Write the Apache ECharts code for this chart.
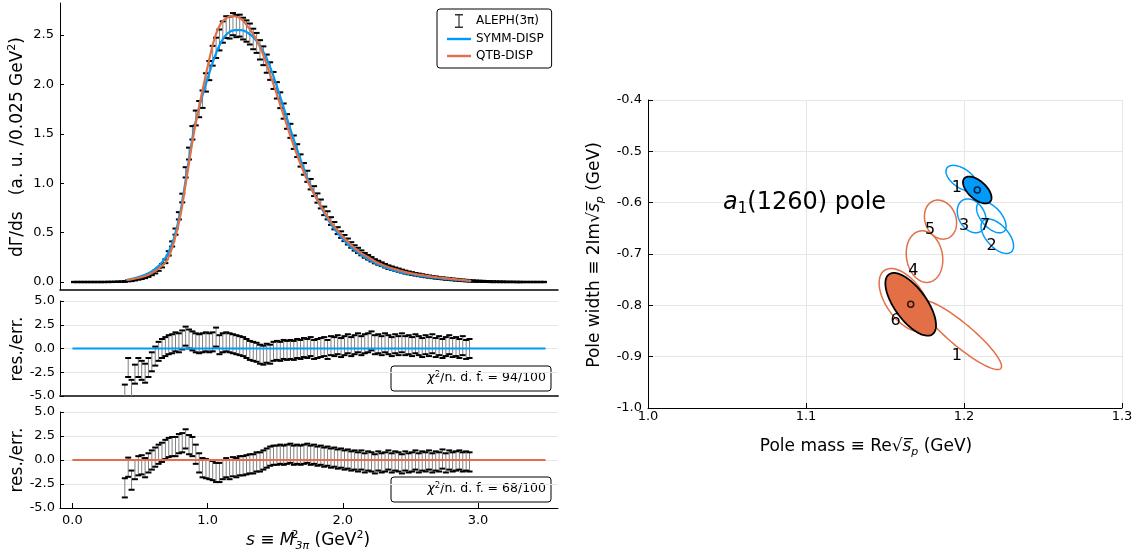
<!DOCTYPE html>
<html><head><meta charset="utf-8">
<script src="https://cdn.jsdelivr.net/npm/echarts@6/dist/echarts.min.js"></script>
<style>html,body{margin:0;padding:0;background:#fff}#c{width:1136px;height:559px}</style>
</head><body><div id="c"></div><script>
// ---------------- data ----------------
const BIN_WIDTH = 0.025;               // GeV^2 bins, centres at (i+0.5)*BIN_WIDTH
const alephValues = [
  0,0,0,0,0,0,0,0,0,0,0.001,0.001,0.002,0.003,0.004,
  0.005,0.012,0.014,0.022,0.030,0.038,0.048,
  0.062,0.080,0.100,0.128,0.165,0.21,
  0.29,0.385,0.51,0.67,0.85,1.11,
  1.30,1.51,1.66,1.75,1.85,2.02,
  2.14,2.29,2.37,2.45,2.53,2.58,
  2.575,2.61,2.59,2.595,2.565,2.54,
  2.51,2.46,2.42,2.35,2.29,2.21,
  2.135,2.04,1.94,1.84,1.73,1.625,
  1.53,1.415,1.33,1.23,1.145,1.07,
  0.99,0.92,0.85,0.79,0.72,0.675,
  0.617,0.57,0.52,0.48,0.445,0.41,
  0.375,0.345,0.32,0.295,0.27,0.25,
  0.23,0.21,0.195,0.18,0.165,0.15,
  0.14,0.13,0.12,0.11,0.10,0.092,
  0.085,0.078,0.072,0.066,0.06,0.055,
  0.05,0.045,0.041,0.037,0.033,0.03,
  0.026,0.023,0.02,0.017,0.014,0.012,
  0.010,0.008,0.007,0.006,0.005,0.004,0.003,0.003,0.002,0.002,0.001,0.001,0.001,0,0,0,0,0,0,0,0,0
];
const alephErrors = [
  0.002,0.002,0.002,0.002,0.002,0.002,0.002,0.002,0.002,0.002,0.002,0.002,0.002,0.002,0.002,
  0.004,0.005,0.005,0.006,0.007,0.008,0.009,
  0.010,0.011,0.013,0.015,0.017,0.019,
  0.022,0.026,0.031,0.037,0.044,0.052,
  0.060,0.068,0.075,0.082,0.088,0.093,
  0.097,0.100,0.103,0.106,0.108,0.110,
  0.111,0.112,0.112,0.111,0.110,0.108,
  0.106,0.104,0.101,0.098,0.095,0.092,
  0.089,0.086,0.083,0.080,0.077,0.074,
  0.071,0.068,0.065,0.062,0.059,0.056,
  0.053,0.050,0.047,0.045,0.043,0.041,
  0.039,0.037,0.035,0.033,0.031,0.030,
  0.028,0.027,0.026,0.025,0.024,0.023,
  0.022,0.021,0.020,0.019,0.018,0.018,
  0.017,0.016,0.016,0.015,0.015,0.014,
  0.014,0.013,0.013,0.012,0.012,0.011,
  0.011,0.011,0.010,0.010,0.010,0.009,
  0.009,0.009,0.008,0.008,0.008,0.008,
  0.007,0.007,0.006,0.006,0.005,0.005,0.005,0.004,0.004,0.004,0.003,0.003,0.003,0.003,0.003,0.002,0.002,0.002,0.002,0.002,0.002,0.002
];
const curveS = [0.40,0.45,0.50,0.55,0.60,0.65,0.70,0.75,0.80,0.85,0.90,0.95,
  1.00,1.05,1.10,1.15,1.20,1.25,1.30,1.35,1.40,1.45,1.50,1.55,1.60,1.65,1.70,1.75,1.80,1.85,1.90,1.95,
  2.00,2.05,2.10,2.15,2.20,2.25,2.30,2.35,2.40,2.45,2.50,2.55,2.60,2.65,2.70,2.75,2.80,2.85,2.90,2.95];
const symmDisp = [0.02,0.035,0.055,0.08,0.12,0.18,0.27,0.44,0.72,1.14,1.55,1.83,
  2.06,2.27,2.43,2.52,2.55,2.55,2.52,2.46,2.36,2.22,2.03,1.82,1.60,1.39,1.19,1.01,0.86,0.73,0.61,0.515,
  0.435,0.365,0.31,0.26,0.22,0.185,0.155,0.13,0.11,0.092,0.078,0.066,0.056,0.047,0.039,0.032,0.026,0.02,0.015,0.01];
const qtbDisp = [0.02,0.03,0.045,0.065,0.10,0.15,0.22,0.40,0.68,1.10,1.52,1.86,
  2.18,2.46,2.62,2.68,2.69,2.66,2.58,2.48,2.34,2.15,1.95,1.74,1.53,1.33,1.15,0.99,0.86,0.74,0.63,0.54,
  0.46,0.39,0.33,0.28,0.24,0.20,0.17,0.145,0.125,0.105,0.09,0.078,0.067,0.057,0.048,0.040,0.032,0.025,0.018,0.012];
const RES_FIRST_BIN = 15;              // residuals start at bin 15 (s = 0.3875)
const resSymm = [
  -4.8,-2.0,-4.3,-2.7,-2.0,-2.3,-2.6,
  -2.0,-1.4,-0.8,-0.3,0.0,0.2,
  0.4,0.5,0.7,0.6,0.9,1.3,
  1.0,0.8,0.6,0.5,0.6,0.7,
  0.6,0.7,1.2,0.4,0.6,0.7,
  0.6,0.5,0.4,0.3,0.2,0.0,
  -0.2,-0.3,-0.4,-0.6,-0.7,-0.5,
  -0.6,-0.3,-0.2,-0.3,-0.1,-0.2,
  -0.1,-0.2,0.0,-0.1,0.1,0.0,
  0.2,-0.1,0.0,0.1,0.2,-0.1,
  0.3,0.2,0.4,0.1,0.3,0.5,
  0.2,0.4,0.6,0.3,0.5,0.6,
  0.8,0.4,0.5,0.3,0.6,0.4,
  0.2,0.5,0.3,0.6,0.3,0.4,
  0.2,0.5,0.3,0.1,0.4,0.2,
  0.5,0.1,0.3,0.0,0.2,0.4,
  0.1,0.2,0.0,0.3,-0.1,0.0
];
const resQtb = [
  -2.9,-0.75,-2.1,-1.0,-0.6,-0.5,-0.8,
  -0.3,0.0,0.3,0.6,0.8,1.1,
  1.3,1.4,1.4,1.7,1.8,2.2,
  1.6,1.4,0.6,-0.3,-0.8,-0.9,
  -1.0,-1.1,-1.3,-1.3,-1.0,-0.8,
  -1.0,-0.7,-0.8,-0.6,-0.6,-0.5,
  -0.4,-0.4,-0.2,-0.2,0.0,0.2,
  0.4,0.5,0.5,0.6,0.5,0.6,
  0.7,0.5,0.6,0.5,0.6,0.7,
  0.5,0.6,0.4,0.5,0.3,0.4,
  0.2,0.3,0.1,0.2,0.0,0.1,
  -0.1,0.0,-0.2,0.0,-0.3,-0.1,
  -0.2,-0.4,-0.1,-0.3,-0.2,0.0,
  -0.3,-0.1,-0.2,-0.4,-0.1,-0.3,
  -0.2,0.0,-0.3,-0.1,-0.2,0.0,
  -0.3,-0.1,-0.2,0.1,-0.3,0.0,
  -0.2,-0.1,0.0,-0.2,-0.1,-0.2
];
const modelRange = [0, 3.5];
const chi2Symm = '94/100';
const chi2Qtb = '68/100';
const mainYTicks = [0, 0.5, 1.0, 1.5, 2.0, 2.5];
const sTicks = [0, 1, 2, 3];
// ellipses: [centreMass, centreWidth, u_mass, u_width, v_mass, v_width] (conjugate semi-axes, GeV)
const qtbOutlines = [
  [1.18513, -0.6330, 0.00433, -0.03661, -0.00922, -0.01033],  // 5
  [1.17500, -0.7051, 0.00286, -0.04988, -0.01122, -0.00610],  // 4
  [1.16266, -0.7896, 0.01307, -0.05745, -0.00985, -0.02123],  // 6
  [1.19810, -0.8578, 0.02521, -0.06511, -0.00468, -0.01716]   // 1
];
const symmOutlines = [
  [1.19854, -0.5525, 0.00933, -0.02011, -0.00345, -0.01516],  // 1
  [1.20487, -0.6256, 0.00570, -0.03037, -0.00713, -0.01266],  // 3
  [1.21728, -0.6283, 0.00804, -0.02751, -0.00470, -0.01303],  // 7
  [1.22108, -0.6653, 0.00889, -0.03039, -0.00517, -0.01434]   // 2
];
const qtbBest  = [[1.16627, -0.7980, 0.01377, -0.05831, -0.00819, -0.01833]];
const symmBest = [[1.20840, -0.5753, 0.00818, -0.02268, -0.00381, -0.01303]];
const qtbLabels  = [[1.1785, -0.6533, '5'], [1.1679, -0.7325, '4'], [1.1567, -0.8298, '6'], [1.1954, -0.8987, '1']];
const symmLabels = [[1.1954, -0.5720, '1'], [1.2000, -0.6447, '3'], [1.2133, -0.6447, '7'], [1.2175, -0.6837, '2']];
const poleTitlePos = [1.0475, -0.600];

// ---------------- style ----------------
const FONT = 'DejaVu Sans';
const BLUE = '#009AFA', ORANGE = '#E26F46';
const GRIDLINE = '#e6e6e6';

function binCentre(i) { return (i + 0.5) * BIN_WIDTH; }
const alephBars = alephValues.map((v, i) => [binCentre(i), v - alephErrors[i], v + alephErrors[i]]);
const symmResBars = resSymm.map((r, k) => [binCentre(RES_FIRST_BIN + k), r - 1, r + 1]);
const qtbResBars = resQtb.map((r, k) => [binCentre(RES_FIRST_BIN + k), r - 1, r + 1]);

function errorBarItem(params, api) {
  const s = api.value(0), lo = api.value(1), hi = api.value(2);
  const top = api.coord([s, hi]), bot = api.coord([s, lo]);
  const hw = 3;
  return { type: 'group', children: [
    { type: 'line', shape: { x1: top[0], y1: top[1], x2: bot[0], y2: bot[1] }, style: { stroke: '#808080', lineWidth: 1 } },
    { type: 'line', shape: { x1: top[0] - hw, y1: top[1], x2: top[0] + hw, y2: top[1] }, style: { stroke: '#000', lineWidth: 2 } },
    { type: 'line', shape: { x1: bot[0] - hw, y1: bot[1], x2: bot[0] + hw, y2: bot[1] }, style: { stroke: '#000', lineWidth: 2 } }
  ]};
}
function ellipseItem(fill, stroke, lw) {
  return function (params, api) {
    const cx = api.value(0), cy = api.value(1), ux = api.value(2), uy = api.value(3), vx = api.value(4), vy = api.value(5);
    const pts = [];
    for (let k = 0; k < 120; k++) {
      const t = 2 * Math.PI * k / 120, c = Math.cos(t), s = Math.sin(t);
      pts.push(api.coord([cx + ux * c + vx * s, cy + uy * c + vy * s]));
    }
    return { type: 'polygon', shape: { points: pts }, style: { fill: fill, stroke: stroke, lineWidth: lw } };
  };
}
function textItem(list, styleFn) {
  return function (params, api) {
    const p = api.coord([api.value(0), api.value(1)]);
    return { type: 'text', x: p[0], y: p[1], style: styleFn(list[params.dataIndex][2]) };
  };
}
const fmt1 = v => Number(v).toFixed(1);
const labelStyle = { color: '#000', fontFamily: FONT, fontSize: 13 };

const leftX = (idx, extra) => Object.assign({
  type: 'value', gridIndex: idx, min: -0.092, max: 3.592,
  axisLine: { show: true, onZero: false, lineStyle: { color: '#000', width: 1 } },
  axisTick: { show: false }, axisLabel: { show: false }, splitLine: { show: false }
}, extra || {});
const resY = idx => ({
  type: 'value', gridIndex: idx, min: -5, max: 5, interval: 2.5,
  axisLine: { show: true, onZero: false, lineStyle: { color: '#000' } },
  axisTick: { show: true, inside: true, length: 4, lineStyle: { color: '#000' } },
  axisLabel: Object.assign({ formatter: fmt1, margin: 5 }, labelStyle),
  splitLine: { show: true, lineStyle: { color: GRIDLINE, width: 1 } }
});

const rich = {
  n: { fontFamily: FONT, fontSize: 17, color: '#000', lineHeight: 22 },
  i: { fontFamily: FONT, fontSize: 17, fontStyle: 'italic', color: '#000', lineHeight: 22 },
  sup: { fontFamily: FONT, fontSize: 11, color: '#000', verticalAlign: 'top', lineHeight: 12 },
  supw: { fontFamily: FONT, fontSize: 11, color: '#000', verticalAlign: 'top', lineHeight: 12, width: 1 },
  sub: { fontFamily: FONT, fontSize: 11, color: '#000', verticalAlign: 'bottom', lineHeight: 12 },
  subi: { fontFamily: FONT, fontSize: 11, fontStyle: 'italic', color: '#000', verticalAlign: 'bottom', lineHeight: 12 }
};
const richSmall = {
  n: { fontFamily: FONT, fontSize: 12.5, color: '#000', lineHeight: 16 },
  i: { fontFamily: FONT, fontSize: 12.5, fontStyle: 'italic', color: '#000', lineHeight: 16 },
  sup: { fontFamily: FONT, fontSize: 8.5, color: '#000', verticalAlign: 'top', lineHeight: 9 }
};
function title(x, y, text, rot) {
  return { type: 'text', x: x, y: y, rotation: rot || 0, z: 100,
    style: { text: text, rich: rich, align: 'center', verticalAlign: 'middle' } };
}
function chiBox(y, val) {
  return { type: 'group', z: 100, children: [
    { type: 'rect', shape: { x: 391, y: y, width: 160, height: 25, r: 3 }, style: { fill: '#fff', stroke: '#000', lineWidth: 1 } },
    { type: 'text', x: 546, y: y + 12, style: { text: '{i|χ}{sup|2}{n|/n. d. f. = ' + val + '}', rich: richSmall, align: 'right', verticalAlign: 'middle' } }
  ]};
}

const option = {
  animation: false,
  backgroundColor: '#fff',
  textStyle: { fontFamily: FONT },
  grid: [
    { left: 60, top: 3, width: 498, height: 287, outerBoundsMode: 'none', containLabel: false },
    { left: 60, top: 301, width: 498, height: 95, outerBoundsMode: 'none', containLabel: false },
    { left: 60, top: 412, width: 498, height: 96, outerBoundsMode: 'none', containLabel: false },
    { left: 648, top: 100, width: 474, height: 308, outerBoundsMode: 'none', containLabel: false }
  ],
  xAxis: [
    leftX(0, { axisLine: { show: true, onZero: false, lineStyle: { color: '#000', width: 1.5 } } }),
    leftX(1, { axisLine: { show: true, onZero: false, lineStyle: { color: '#444', width: 2 } } }),
    leftX(2, {
      axisTick: { show: true, inside: true, length: 5, customValues: sTicks, lineStyle: { color: '#000' } },
      axisLabel: Object.assign({ show: true, customValues: sTicks, formatter: fmt1, margin: 6 }, labelStyle)
    }),
    { type: 'value', gridIndex: 3, min: 1.0, max: 1.3, interval: 0.1,
      axisLine: { show: true, onZero: false, lineStyle: { color: '#000' } },
      axisTick: { show: true, inside: true, length: 5, lineStyle: { color: '#000' } },
      axisLabel: Object.assign({ formatter: fmt1, margin: 2 }, labelStyle),
      splitLine: { show: true, lineStyle: { color: GRIDLINE } } }
  ],
  yAxis: [
    { type: 'value', gridIndex: 0, min: -0.081, max: 2.824,
      axisLine: { show: true, onZero: false, lineStyle: { color: '#000' } },
      axisTick: { show: true, inside: true, length: 4, customValues: mainYTicks, lineStyle: { color: '#000' } },
      axisLabel: Object.assign({ customValues: mainYTicks, formatter: fmt1, margin: 6 }, labelStyle),
      splitLine: { show: false } },
    resY(1), resY(2),
    { type: 'value', gridIndex: 3, min: -1.0, max: -0.4, interval: 0.1,
      axisLine: { show: true, onZero: false, lineStyle: { color: '#000' } },
      axisTick: { show: true, inside: true, length: 5, lineStyle: { color: '#000' } },
      axisLabel: Object.assign({ formatter: fmt1, margin: 6 }, labelStyle),
      splitLine: { show: true, lineStyle: { color: GRIDLINE } } }
  ],
  legend: {
    left: 437, top: 9, orient: 'vertical', selectedMode: false,
    padding: [5, 8, 6, 10], itemGap: 5, itemWidth: 24, itemHeight: 14,
    backgroundColor: '#fff', borderColor: '#000', borderWidth: 1, borderRadius: 3,
    textStyle: { fontFamily: FONT, fontSize: 12, color: '#000' },
    data: [
      { name: 'ALEPH(3π)', icon: 'path://M0,0 L8,0 L8,1.5 L4.6,1.5 L4.6,12.5 L8,12.5 L8,14 L0,14 L0,12.5 L3.4,12.5 L3.4,1.5 L0,1.5 Z', itemStyle: { color: '#333' } },
      { name: 'SYMM-DISP', icon: 'path://M0,0 L24,0 L24,2.4 L0,2.4 Z' },
      { name: 'QTB-DISP', icon: 'path://M0,0 L24,0 L24,2.4 L0,2.4 Z' }
    ]
  },
  graphic: [
    title(18, 147, '{n|dΓ/ds   (a. u. /0.025 GeV}{sup|2}{n|)}', Math.PI / 2),
    title(18, 349, '{n|res./err.}', Math.PI / 2),
    title(18, 460, '{n|res./err.}', Math.PI / 2),
    title(308, 541, '{i|s}{n| ≡ }{i|M}{supw|2}{subi|3π}{n| (GeV}{sup|2}{n|)}'),
    title(595, 255, '{n|Pole width ≡ 2Im√}{i|s\u0305}{subi|p}{n| (GeV)}', Math.PI / 2),
    title(866, 447, '{n|Pole mass ≡ Re√}{i|s\u0305}{subi|p}{n| (GeV)}'),
    chiBox(366, chi2Symm),
    chiBox(477, chi2Qtb)
  ],
  series: [
    { name: 'ALEPH(3π)', type: 'custom', xAxisIndex: 0, yAxisIndex: 0, renderItem: errorBarItem, clip: true, silent: true,
      itemStyle: { color: '#333' }, encode: { x: 0, y: [1, 2] }, data: alephBars },
    { name: 'SYMM-DISP', type: 'line', xAxisIndex: 0, yAxisIndex: 0, showSymbol: false, smooth: 0.3, silent: true,
      color: BLUE, lineStyle: { color: BLUE, width: 2.2 }, data: curveS.map((s, i) => [s, symmDisp[i]]) },
    { name: 'QTB-DISP', type: 'line', xAxisIndex: 0, yAxisIndex: 0, showSymbol: false, smooth: 0.3, silent: true,
      color: ORANGE, lineStyle: { color: ORANGE, width: 2.2 }, data: curveS.map((s, i) => [s, qtbDisp[i]]) },

    { name: 'res SYMM', type: 'custom', xAxisIndex: 1, yAxisIndex: 1, renderItem: errorBarItem, clip: true, silent: true,
      encode: { x: 0, y: [1, 2] }, data: symmResBars },
    { name: 'zero SYMM', type: 'line', xAxisIndex: 1, yAxisIndex: 1, showSymbol: false, silent: true,
      lineStyle: { color: BLUE, width: 2 }, data: modelRange.map(s => [s, 0]) },
    { name: 'res QTB', type: 'custom', xAxisIndex: 2, yAxisIndex: 2, renderItem: errorBarItem, clip: true, silent: true,
      encode: { x: 0, y: [1, 2] }, data: qtbResBars },
    { name: 'zero QTB', type: 'line', xAxisIndex: 2, yAxisIndex: 2, showSymbol: false, silent: true,
      lineStyle: { color: ORANGE, width: 2 }, data: modelRange.map(s => [s, 0]) },

    { name: 'QTB ellipses', type: 'custom', xAxisIndex: 3, yAxisIndex: 3, silent: true,
      renderItem: ellipseItem('none', ORANGE, 1.5), encode: { x: 0, y: 1 }, data: qtbOutlines },
    { name: 'SYMM ellipses', type: 'custom', xAxisIndex: 3, yAxisIndex: 3, silent: true,
      renderItem: ellipseItem('none', BLUE, 1.5), encode: { x: 0, y: 1 }, data: symmOutlines },
    { name: 'QTB best', type: 'custom', xAxisIndex: 3, yAxisIndex: 3, silent: true,
      renderItem: ellipseItem(ORANGE, '#000', 1.8), encode: { x: 0, y: 1 }, data: qtbBest },
    { name: 'SYMM best', type: 'custom', xAxisIndex: 3, yAxisIndex: 3, silent: true,
      renderItem: ellipseItem(BLUE, '#000', 1.8), encode: { x: 0, y: 1 }, data: symmBest },
    { name: 'centres', type: 'scatter', xAxisIndex: 3, yAxisIndex: 3, silent: true, symbol: 'circle', symbolSize: 6,
      itemStyle: { color: 'rgba(0,0,0,0)', borderColor: '#000', borderWidth: 1.5 },
      data: qtbBest.concat(symmBest).map(e => [e[0], e[1]]) },
    { name: 'fit labels', type: 'custom', xAxisIndex: 3, yAxisIndex: 3, silent: true, encode: { x: 0, y: 1 },
      renderItem: textItem(qtbLabels.concat(symmLabels), t => ({ text: t, fill: '#000', fontFamily: FONT, fontSize: 16, align: 'center', verticalAlign: 'middle' })),
      data: qtbLabels.concat(symmLabels).map(l => [l[0], l[1]]) },
    { name: 'pole title', type: 'custom', xAxisIndex: 3, yAxisIndex: 3, silent: true, encode: { x: 0, y: 1 },
      renderItem: function (params, api) {
        const p = api.coord([api.value(0), api.value(1)]);
        return { type: 'text', x: p[0], y: p[1], style: {
          text: '{i|a}{s|1}{n|(1260) pole}', align: 'left', verticalAlign: 'middle',
          rich: {
            i: { fontFamily: FONT, fontSize: 24, fontStyle: 'italic', fill: '#000', color: '#000', lineHeight: 28 },
            n: { fontFamily: FONT, fontSize: 24, fill: '#000', color: '#000', lineHeight: 28 },
            s: { fontFamily: FONT, fontSize: 15, fill: '#000', color: '#000', verticalAlign: 'bottom', lineHeight: 15 }
          } } };
      },
      data: [poleTitlePos] }
  ]
};
const chart = echarts.init(document.getElementById('c'), null, { renderer: 'canvas' });
chart.setOption(option);
</script></body></html>
